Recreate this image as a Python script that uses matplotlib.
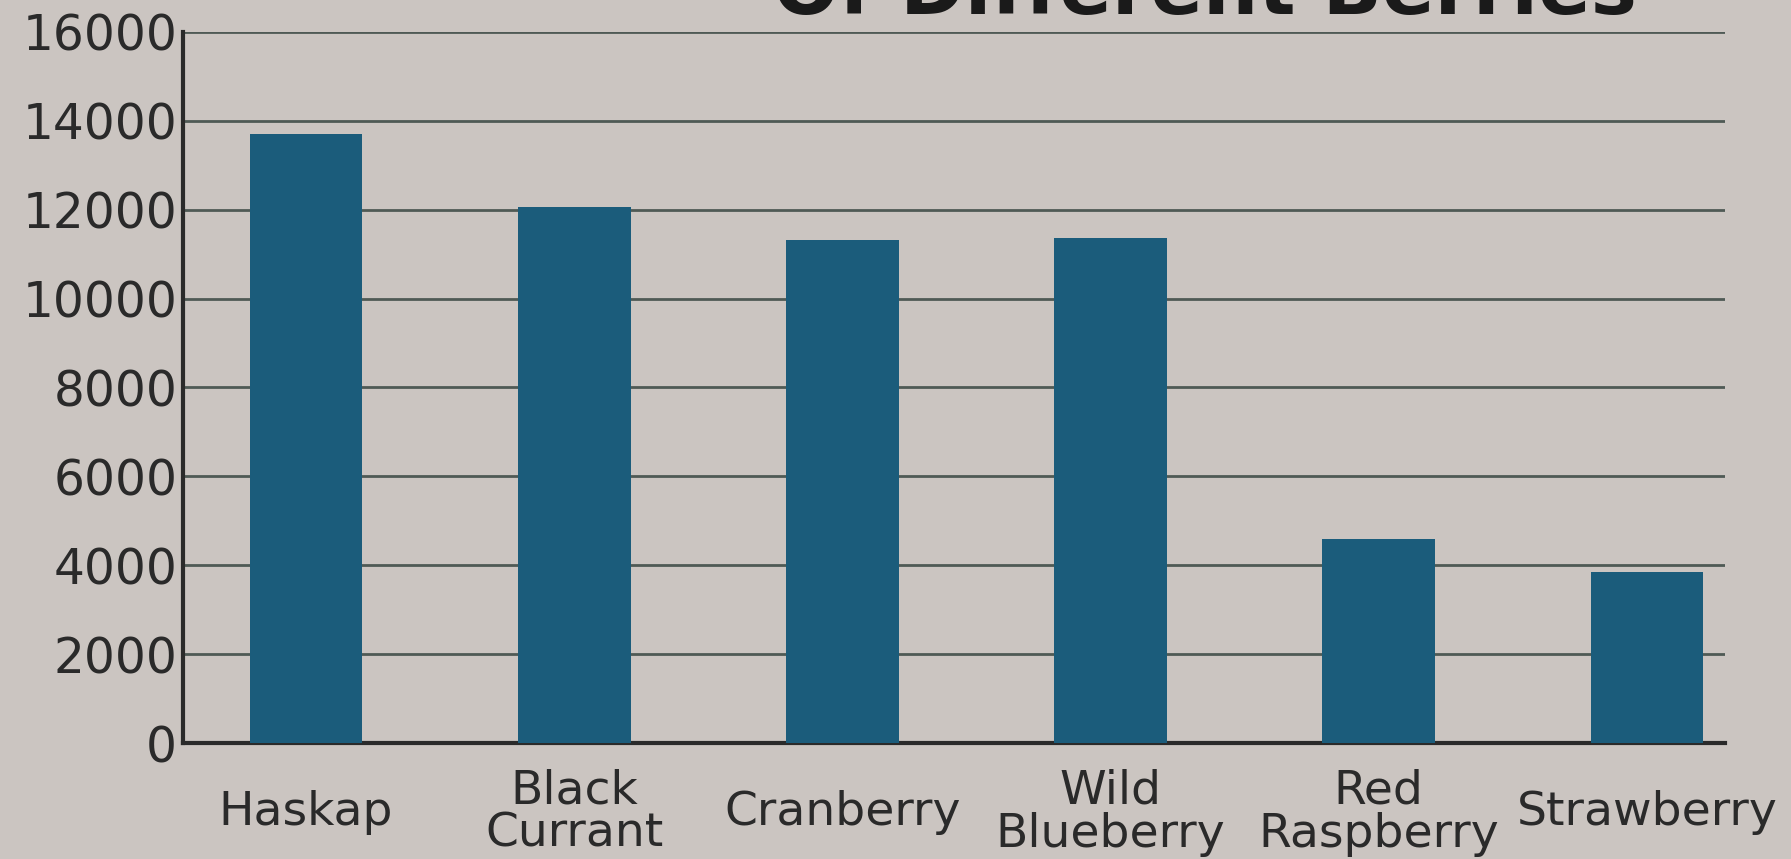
import matplotlib.pyplot as plt
import numpy as np

# values
berries = ['Haskap', 'Black\nCurrant', 'Cranberry', 'Wild\nBlueberry', 'Red\nRaspberry', 'Strawberry']
values = [13700, 12050, 11320, 11350, 4590, 3850]
yticks = [0, 2000, 4000, 6000, 8000, 10000, 12000, 14000, 16000]

BG = '#cbc5c1'
BAR = '#1b5c7b'
GRID = '#4f5a55'

plt.rcParams['font.family'] = ['DejaVu Sans']

fig = plt.figure(figsize=(17.91, 8.59), dpi=100, facecolor=BG)
ax = fig.add_axes([0.102, 0.135, 0.861, 0.828])
ax.set_facecolor(BG)

x = np.arange(len(berries))
ax.bar(x, values, width=0.42, color=BAR, zorder=3)

ax.set_ylim(0, 16000)
ax.set_xlim(-0.46, 5.29)
ax.set_yticks(yticks)
ax.set_yticklabels([str(v) for v in yticks], fontsize=35, color='#2a2a2a')
ax.set_xticks(x)
ax.set_xticklabels(berries, fontsize=34, color='#2a2a2a', linespacing=0.95)
for lbl in ax.get_xticklabels():
    lbl.set_verticalalignment('center')
ax.tick_params(axis='x', length=0, pad=50)
ax.tick_params(axis='y', length=0, pad=4)

ax.yaxis.grid(True, color=GRID, lw=2, zorder=1)
ax.set_axisbelow(True)
for s in ['top', 'right']:
    ax.spines[s].set_visible(False)
for s in ['left', 'bottom']:
    ax.spines[s].set_color('#2a2a2a')
    ax.spines[s].set_linewidth(3)

# title is cut off at the top edge of the photo, as in the reference
fig.text(0.673, 0.984, 'Of Different Berries', fontsize=56, fontweight='bold',
         ha='center', va='baseline', color='#1a1a1a')

fig.savefig('out.png', dpi=100, facecolor=BG)
